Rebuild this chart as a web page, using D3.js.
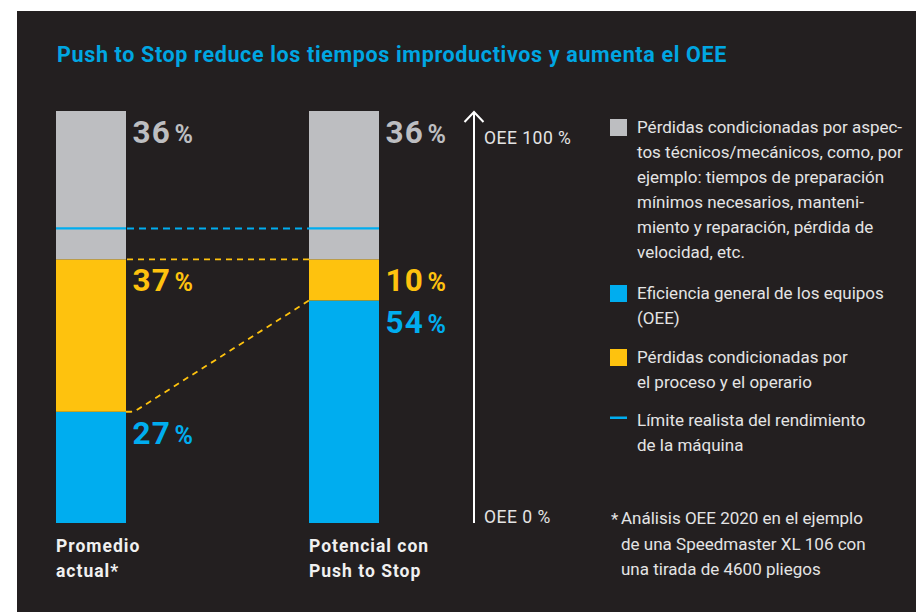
<!DOCTYPE html>
<html><head><meta charset="utf-8">
<script src="https://cdn.jsdelivr.net/npm/d3@7"></script>
<style>
html,body{margin:0;padding:0;background:#fff;}
svg{display:block;}
text{font-family:Roboto,"Noto Sans",sans-serif;}
</style></head>
<body>
<svg id="chart" width="916" height="612"></svg>
<script>
// ---- data ----
const categories = ["Promedio actual*", "Potencial con Push to Stop"];
const categoryLines = [["Promedio", "actual*"], ["Potencial con", "Push to Stop"]];
const oeeValues = [27, 54];            // blue
const processLoss = [37, 10];          // yellow
const technicalLoss = [36, 36];        // gray
const realisticLimit = 71.5;           // blue line
const axisTicks = [{v: 100, label: "OEE 100 %"}, {v: 0, label: "OEE 0 %"}];
const title = "Push to Stop reduce los tiempos improductivos y aumenta el OEE";
const legendItems = [
  {key: "tech", lines: ["Pérdidas condicionadas por aspec-", "tos técnicos/mecánicos, como, por", "ejemplo: tiempos de preparación", "mínimos necesarios, manteni-", "miento y reparación, pérdida de", "velocidad, etc."]},
  {key: "oee", lines: ["Eficiencia general de los equipos", "(OEE)"]},
  {key: "proc", lines: ["Pérdidas condicionadas por", "el proceso y el operario"]},
  {key: "limit", lines: ["Límite realista del rendimiento", "de la máquina"]}
];
const footnote = ["Análisis OEE 2020 en el ejemplo", "de una Speedmaster XL 106 con", "una tirada de 4600 pliegos"];

const colors = {oee: "#00adef", proc: "#fec20e", tech: "#bdbec1", bg: "#231f20", text: "#e4e4e4"};

const svg = d3.select("#chart");
svg.append("rect").attr("x", 17).attr("y", 11).attr("width", 899).attr("height", 601).attr("fill", colors.bg);

svg.append("text").attr("x", 57).attr("y", 61.5).attr("fill", "#00a6e2")
  .attr("font-size", 21.5).attr("font-weight", 700).attr("letter-spacing", 0.65).text(title);

const y = d3.scaleLinear().domain([0, 100]).range([523, 111]);
const x = d3.scaleBand().domain(categories).range([56, 379]).paddingInner(183 / 253).paddingOuter(0);
const bw = x.bandwidth();

const rows = categories.map((c, i) => ({cat: c, oee: oeeValues[i], proc: processLoss[i], tech: technicalLoss[i]}));
const stack = d3.stack().keys(["oee", "proc", "tech"])(rows);

const g = svg.append("g");
stack.forEach(layer => {
  g.selectAll(null).data(layer).enter().append("rect")
    .attr("x", d => x(d.data.cat))
    .attr("y", d => y(d[1]))
    .attr("width", bw)
    .attr("height", d => y(d[0]) - y(d[1]))
    .attr("fill", colors[layer.key]);
});

// realistic limit line
const yl = y(realisticLimit);
categories.forEach(c => {
  g.append("line").attr("x1", x(c)).attr("x2", x(c) + bw).attr("y1", yl).attr("y2", yl)
    .attr("stroke", colors.oee).attr("stroke-width", 2.2);
});
g.append("line").attr("x1", x(categories[0]) + bw + 1).attr("x2", x(categories[1])).attr("y1", yl).attr("y2", yl)
  .attr("stroke", colors.oee).attr("stroke-width", 2).attr("stroke-dasharray", "7,5");

// yellow dashed connectors
const procTop = y(oeeValues[0] + processLoss[0]);
g.append("line").attr("x1", x(categories[0]) + bw + 1).attr("x2", x(categories[1])).attr("y1", procTop).attr("y2", procTop)
  .attr("stroke", colors.proc).attr("stroke-width", 1.8).attr("stroke-dasharray", "6,5");
const y0 = y(oeeValues[0]), y1 = y(oeeValues[1]);
const x0 = x(categories[0]) + bw, x1 = x(categories[1]);
g.append("path")
  .attr("d", `M${x0},${y0} L${x0 + 5},${y0} Q${x0 + 8},${y0} ${x0 + 10},${y0 - 1.2} L${x1},${y1}`)
  .attr("fill", "none").attr("stroke", colors.proc).attr("stroke-width", 1.8).attr("stroke-dasharray", "6,5");

// value labels
function valueLabel(cx, top, val, color) {
  const t = g.append("text").attr("x", cx).attr("y", top + 32).attr("fill", color).attr("font-weight", 700);
  t.append("tspan").attr("font-size", 31.5).attr("letter-spacing", 1.2).text(val);
  t.append("tspan").attr("font-size", 25).attr("dx", 3.5).text("%");
}
rows.forEach(r => {
  const lx = x(r.cat) + bw + 6.5;
  valueLabel(lx, y(r.oee + r.proc + r.tech), r.tech, colors.tech);
  valueLabel(lx, y(r.oee + r.proc), r.proc, colors.proc);
  valueLabel(lx, y(r.oee), r.oee, colors.oee);
});

// category labels
categories.forEach((c, i) => {
  const t = svg.append("text").attr("x", x(c)).attr("y", 552).attr("fill", "#f0f0f0")
    .attr("font-size", 17.5).attr("font-weight", 700).attr("letter-spacing", 1);
  categoryLines[i].forEach((ln, j) => t.append("tspan").attr("x", x(c)).attr("dy", j ? 25 : 0).text(ln));
});

// OEE axis arrow
const ax = 474;
svg.append("line").attr("x1", ax).attr("x2", ax).attr("y1", y(0)).attr("y2", y(100) + 1)
  .attr("stroke", "#fff").attr("stroke-width", 2);
svg.append("path").attr("d", `M${ax - 9.5},${y(100) + 11} L${ax},${y(100) + 1} L${ax + 9.5},${y(100) + 11}`)
  .attr("fill", "none").attr("stroke", "#fff").attr("stroke-width", 2);
svg.selectAll(null).data(axisTicks).enter().append("text")
  .attr("x", 484).attr("y", d => d.v === 100 ? y(d.v) + 33 : y(d.v))
  .attr("fill", colors.text).attr("font-size", 17.5).attr("letter-spacing", 0.5).text(d => d.label);

// legend
const legendY = [133, 299, 363, 426];
legendItems.forEach((it, i) => {
  const by = legendY[i];
  if (it.key === "limit") {
    svg.append("rect").attr("x", 610).attr("y", by - 9.5).attr("width", 17).attr("height", 2.5).attr("fill", colors.oee);
  } else {
    svg.append("rect").attr("x", 610).attr("y", by - 14).attr("width", 17).attr("height", 17).attr("fill", colors[it.key]);
  }
  const t = svg.append("text").attr("x", 637).attr("y", by).attr("fill", colors.text).attr("font-size", 17);
  it.lines.forEach((ln, j) => t.append("tspan").attr("x", 637).attr("dy", j ? 25 : 0).text(ln));
});

// footnote
svg.append("text").attr("x", 611).attr("y", 525).attr("fill", colors.text).attr("font-size", 17).text("*");
const ft = svg.append("text").attr("x", 621).attr("y", 524).attr("fill", colors.text).attr("font-size", 17);
footnote.forEach((ln, j) => ft.append("tspan").attr("x", 621).attr("dy", j ? 25.5 : 0).text(ln));
</script>
</body></html>
